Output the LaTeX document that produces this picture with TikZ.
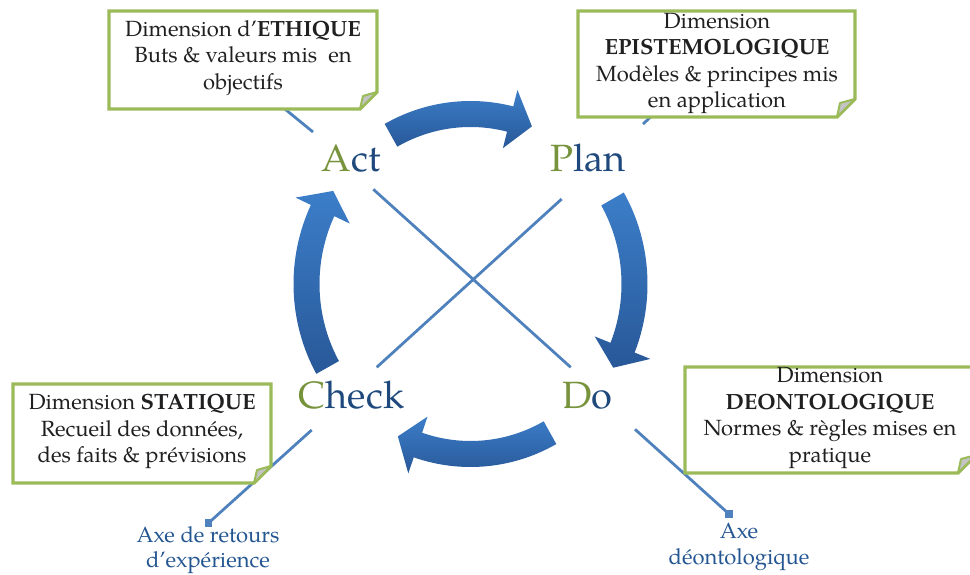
\documentclass[tikz,border=0pt]{standalone}
\usepackage{fontspec}
\setmainfont{TeX Gyre Pagella}
\usetikzlibrary{calc}
\definecolor{boxgreen}{RGB}{155,187,89}
\definecolor{lettergreen}{RGB}{119,147,60}
\definecolor{navy}{RGB}{31,73,125}
\definecolor{axislabel}{RGB}{36,86,146}
\definecolor{axisblue}{RGB}{79,129,189}
\definecolor{arrowtop}{RGB}{60,126,201}
\definecolor{arrowbot}{RGB}{40,88,152}
\definecolor{foldgrey}{RGB}{196,196,196}
\definecolor{txt}{RGB}{32,32,32}
\newcommand\notebox[5]{%
  \draw[boxline] (#1,#2) -- (#3,#2) -- (#3,#4+#5) -- (#3-#5,#4) -- (#1,#4) -- cycle;
  \draw[boxline, fill=foldgrey, line width=2pt, line join=round] (#3-#5,#4) -- (#3,#4+#5) -- (#3-#5+3,#4+#5-4) -- cycle;}
\newcommand\cyclearrow[3]{%
  \path[top color=arrowtop, bottom color=arrowbot]
   (#1:177pt and 183pt) arc[start angle=#1, end angle=#2, x radius=177pt, y radius=183pt]
   -- (#2:194pt and 200pt) -- (#3:164pt and 170pt) -- (#2:134pt and 140pt)
   -- (#2:151pt and 157pt) arc[start angle=#2, end angle=#1, x radius=151pt, y radius=157pt]
   -- cycle;}
\tikzset{
  boxline/.style={draw=boxgreen, line width=3.2pt, fill=white, line join=miter},
  boxtext/.style={font=\fontsize{22}{26.5}\selectfont, align=center, text=txt, inner sep=0pt},
  cyc/.style={font=\fontsize{38}{44}\selectfont, text=navy, inner sep=0pt, anchor=base},
  axistext/.style={font=\fontsize{22}{25.5}\selectfont, align=center, text=axislabel, inner sep=0pt},
  axisln/.style={draw=axisblue, line width=2.8pt},
  sqmark/.style={fill=axisblue, minimum size=7.5pt, inner sep=0pt}
}
\begin{document}
\begin{tikzpicture}[x=1pt,y=1pt]
\useasboundingbox (0,0) rectangle (970,574);
% axis ends
\node[sqmark] (sqL) at (208.5,51) {};
\node[sqmark] (sqR) at (729,60) {};
% line A (Act -- Do)
\coordinate (a0) at (280,469);
\coordinate (a1) at (313,442);
\coordinate (a2) at (373.3,384.7);
\coordinate (a3) at (570.7,206.7);
\coordinate (a4) at (635,144.7);
% line B (Check -- Plan)
\coordinate (b0) at (656,462);
\coordinate (b1) at (643,450);
\coordinate (b2) at (561.7,375);
\coordinate (b3) at (376.7,206.7);
\coordinate (b4) at (311.7,144);
\draw[axisln] (a0) -- (a1);
\draw[axisln] (a2) -- (a3);
\draw[axisln] (a4) -- (sqR.center);
\draw[axisln] (b0) -- (b1);
\draw[axisln] (b2) -- (b3);
\draw[axisln] (b4) -- (sqL.center);
% note boxes
\notebox{109}{563}{377}{465}{17}
\notebox{578}{563}{855}{457}{18}
\notebox{13}{190}{271}{91}{17}
\notebox{685}{207}{976}{101}{18}
\node[boxtext] (ethique) at (243,516) {Dimension d’\textbf{ETHIQUE}\\Buts \& valeurs mis~ en\\objectifs};
\node[boxtext] (episteme) at (717,510.5) {Dimension\\\textbf{EPISTEMOLOGIQUE}\\Modèles \& principes mis\\en application};
\node[boxtext] (statique) at (142,142.5) {Dimension \textbf{STATIQUE}\\Recueil des données,\\des faits \& prévisions};
\node[boxtext] (deonto) at (830,156) {Dimension\\\textbf{DEONTOLOGIQUE}\\Normes \& règles mises en\\pratique};
% cycle labels
\node[cyc] (act) at (351,402) {\textcolor{lettergreen}{A}ct};
\node[cyc] (plan) at (588,402) {\textcolor{lettergreen}{P}lan};
\node[cyc] (check) at (351.5,166) {\textcolor{lettergreen}{C}heck};
\node[cyc] (do) at (587.5,166) {\textcolor{lettergreen}{D}o};
% axis labels
\node[axistext] (axeRetour) at (208,24) {Axe de retours\\d’expérience};
\node[axistext] (axeDeonto) at (739,27) {Axe\\déontologique};
% cycle arrows
\begin{scope}[shift={(470.5,290)}]
\cyclearrow{119}{76}{68}
\cyclearrow{30}{-22}{-29.5}
\cyclearrow{-61}{-108.7}{-116.3}
\cyclearrow{209.4}{154.4}{146.8}
\end{scope}
\end{tikzpicture}
\end{document}
